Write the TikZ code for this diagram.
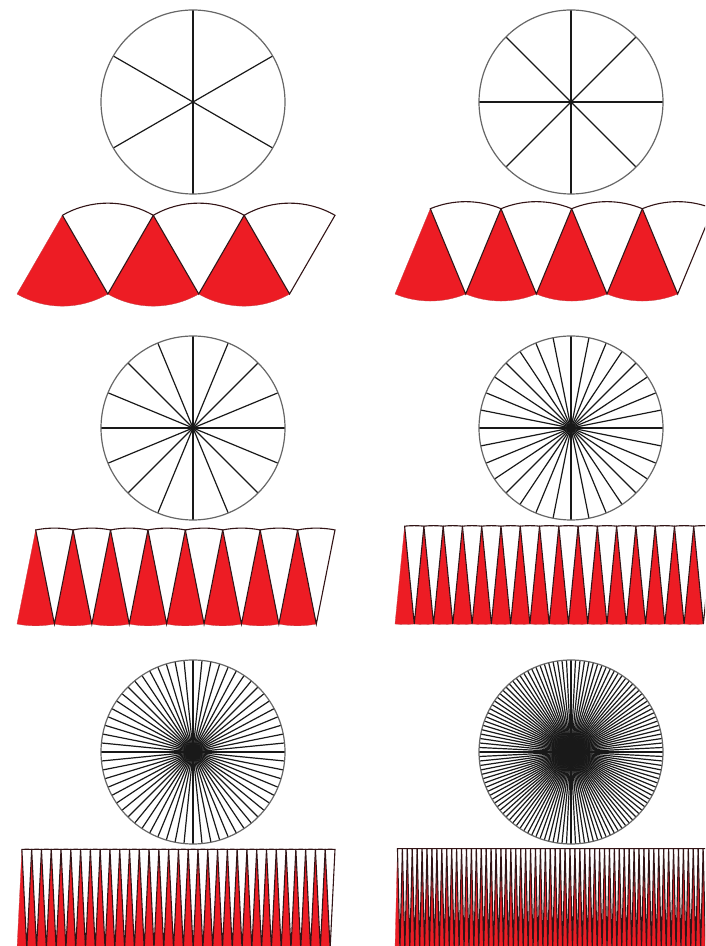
\documentclass[tikz,border=0pt]{standalone}
\definecolor{secred}{RGB}{237,28,36}
\definecolor{rimbrown}{RGB}{50,20,22}

\begin{document}
\begin{tikzpicture}[x=1pt,y=1pt,
  rim/.style={draw=black!60,line width=1.2},
  spoke/.style={draw=black!90,line width=1.2},
  redsec/.style={fill=secred,draw=secred!60!gray,line width=0.3},
  whitesec/.style={fill=white,draw=rimbrown,line width=1.1}]
\useasboundingbox (0,0) rectangle (705,946);
\clip (0,0) rectangle (705,946);
% 圆盘：\wheel{圆心x}{圆心y}{扇形数}
\newcommand{\wheel}[3]{
  \foreach \k in {1,...,#3}
    \draw[spoke] (#1,#2) -- ++({90+360/#3*\k}:92pt);
  \draw[rim] (#1,#2) circle[radius=92pt];}
% 拼条：\sectorrow{左下x}{底线y}{扇形数}，总宽固定 318
\newcommand{\sectorrow}[3]{
  \pgfmathsetmacro{\ha}{180/#3}
  \pgfmathsetmacro{\rad}{318/((#3+1)*sin(\ha))}
  \pgfmathsetmacro{\chd}{2*\rad*sin(\ha)}
  \pgfmathsetmacro{\hgt}{\rad*cos(\ha)}
  \pgfmathtruncatemacro{\m}{#3/2-1}
  \foreach \i in {0,...,\m}
    \path[redsec] ({#1+\chd/2+\i*\chd},{#2+\hgt}) -- ++(270-\ha:\rad pt)
      arc[start angle=270-\ha,end angle=270+\ha,radius=\rad pt] -- cycle;
  \foreach \i in {0,...,\m}
    \draw[whitesec] ({#1+\chd+\i*\chd},#2) -- ++(90-\ha:\rad pt)
      arc[start angle=90-\ha,end angle=90+\ha,radius=\rad pt] -- cycle;}
% ---------- 6 ----------
\begin{scope}
\wheel{193}{844}{6}
\sectorrow{17}{652}{6}
\end{scope}
% ---------- 8 ----------
\begin{scope}[shift={(378,0)}]
\wheel{193}{844}{8}
\sectorrow{17}{652}{8}
\end{scope}
% ---------- 16 ----------
\begin{scope}
\wheel{193}{518}{16}
\sectorrow{17}{322}{16}
\end{scope}
% ---------- 32 ----------
\begin{scope}[shift={(378,0)}]
\wheel{193}{518}{32}
\sectorrow{17}{322}{32}
\end{scope}
% ---------- 64 ----------
\begin{scope}
\wheel{193}{194}{64}
\sectorrow{17}{-3}{64}
\end{scope}
% ---------- 128 ----------
\begin{scope}[shift={(378,0)}]
\wheel{193}{194}{128}
\sectorrow{17}{-3}{128}
\end{scope}
\end{tikzpicture}
\end{document}
